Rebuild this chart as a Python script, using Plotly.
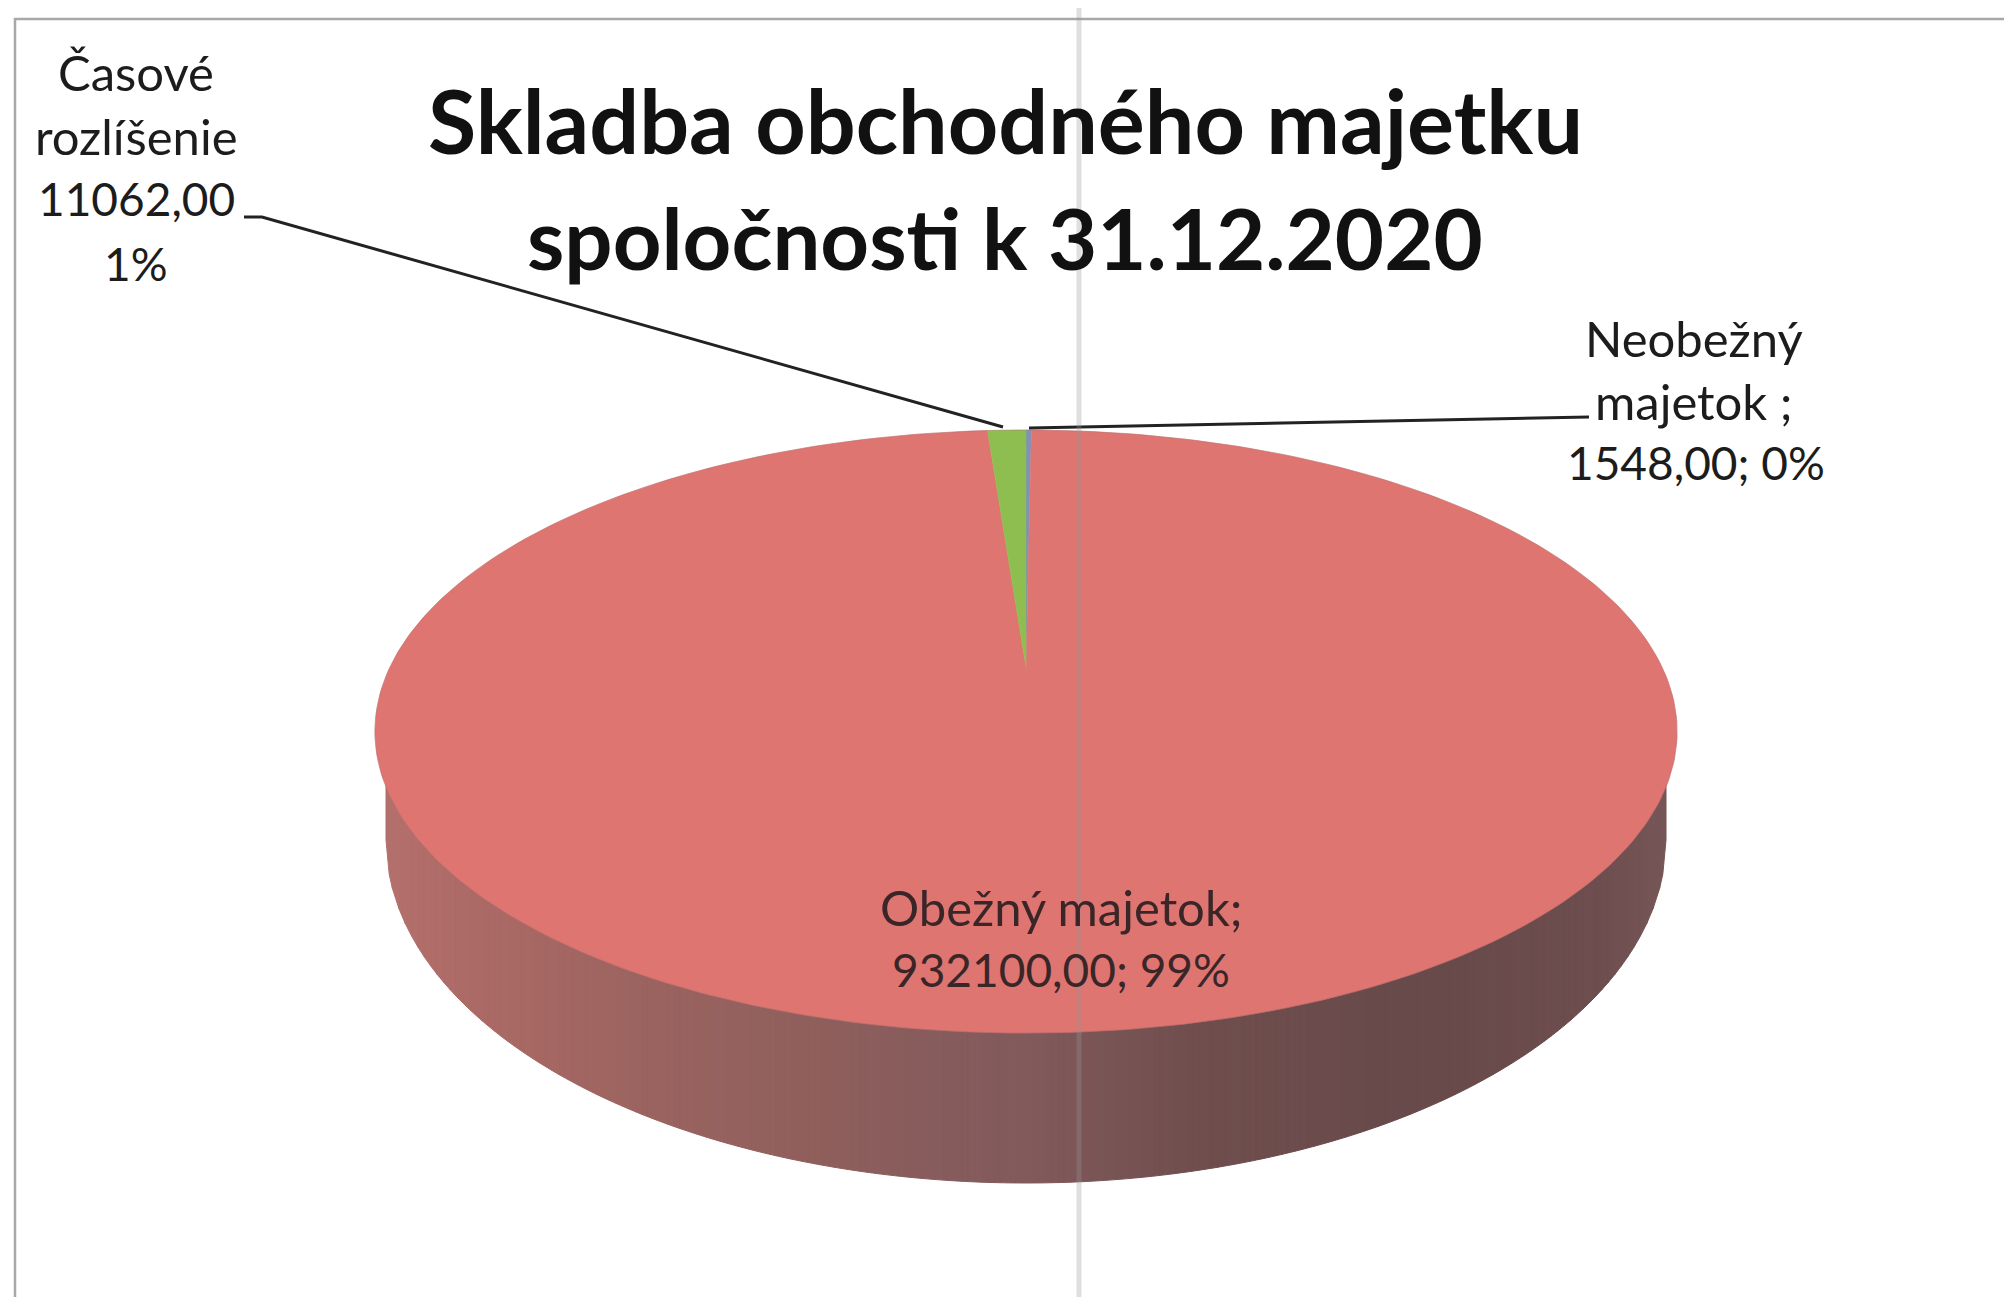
import numpy as np
import plotly.graph_objects as go

# ---- data ----
categories = ["Neobežný majetok", "Obežný majetok", "Časové rozlíšenie"]
values = [1548.00, 932100.00, 11062.00]
percent_labels = ["0%", "99%", "1%"]
slice_colors = ["#7F93B8", "#DF7570", "#8FBE50"]
title_lines = ["Skladba obchodného majetku", "spoločnosti k 31.12.2020"]

def num(v):
    return f"{v:.2f}".replace(".", ",")

# ---- page geometry (pixels of the scanned sheet) ----
OFF = 8               # default body margin of the page
W, H = 2012, 1305
CX, APEX_Y, TOP_Y, BOT_Y = 1026, 667, 430, 1033
R = 636
# perspective of the disc: Y = (APEX_Y + a v) / (1 + c v)
c = 0.214
a = TOP_Y * (1 + c) - APEX_Y

def project(theta):
    u, v = np.sin(theta), np.cos(theta)
    d = 1 + c * v
    return CX + R * u / d, (APEX_Y + a * v) / d

total = sum(values)
fracs = [v / total for v in values]
edges = np.cumsum([0] + fracs) * 2 * np.pi

fig = go.Figure()

# ---- side wall, as vertical strips ----
SX, SY, SRX, SRY = 1026, 840, 640, 343
stops_x = [386, 480, 640, 860, 1030, 1200, 1420, 1600, 1666]
stops_c = [(180, 112, 108), (172, 106, 102), (156, 100, 96), (140, 94, 92), (130, 90, 92),
           (112, 78, 78), (104, 74, 74), (110, 78, 78), (118, 86, 86)]
strip_edges = np.linspace(SX - SRX, SX + SRX, 201)
for x0, x1 in zip(strip_edges[:-1], strip_edges[1:]):
    xs = np.linspace(x0, x1, 3)
    ys = SY + SRY * np.sqrt(np.clip(1 - ((xs - SX) / SRX) ** 2, 0, 1))
    mid = (x0 + x1) / 2
    col = [int(np.interp(mid, stops_x, [s[i] for s in stops_c])) for i in range(3)]
    colour = f"rgb({col[0]},{col[1]},{col[2]})"
    fig.add_trace(go.Scatter(
        x=list(xs) + [x1, x0, x0], y=list(ys) + [720, 720, ys[0]],
        mode="lines", fill="toself", fillcolor=colour,
        line=dict(color=colour, width=1), hoverinfo="skip", showlegend=False))

# ---- top face, drawn from the values ----
for name, val, col, t0, t1 in zip(categories, values, slice_colors, edges[:-1], edges[1:]):
    n = max(4, int((t1 - t0) * 60))
    th = np.linspace(t0, t1, n)
    px, py = project(th)
    fig.add_trace(go.Scatter(
        x=[CX] + list(px) + [CX], y=[APEX_Y] + list(py) + [APEX_Y],
        mode="lines", fill="toself", fillcolor=col,
        line=dict(color=col, width=0.5), name=name, showlegend=False,
        hovertemplate=f"{name}: {num(val)}<extra></extra>"))

# rim
th = np.linspace(0, 2 * np.pi, 400)
px, py = project(th)
fig.add_trace(go.Scatter(x=px, y=py, mode="lines", hoverinfo="skip", showlegend=False,
                         line=dict(color="rgba(170,110,112,0.4)", width=1)))

# ---- leader lines ----
fig.add_trace(go.Scatter(x=[244, 262, 1003], y=[217, 217, 427], mode="lines", hoverinfo="skip",
                         showlegend=False, line=dict(color="#222222", width=3)))
fig.add_trace(go.Scatter(x=[1589, 1029], y=[417, 428], mode="lines", hoverinfo="skip",
                         showlegend=False, line=dict(color="#222222", width=3)))

# ---- sheet border and fold ----
fig.add_trace(go.Scatter(x=[15, 15, W], y=[H, 19, 19], mode="lines", hoverinfo="skip",
                         showlegend=False, line=dict(color="#A8A8A8", width=2.5)))
fig.add_trace(go.Scatter(x=[1079, 1079], y=[OFF, H], mode="lines", hoverinfo="skip",
                         showlegend=False, line=dict(color="rgba(150,150,150,0.3)", width=5)))

# ---- texts ----
FONT = "Lato, Carlito, Calibri, sans-serif"
LABEL = 49
NUMS = 46
TITLE = 88
texts = [
    (1005, 120, title_lines[0], TITLE, "#111111", True),
    (1005, 237, title_lines[1], 85, "#111111", True),
    (136, 72, categories[2].split()[0], LABEL, "#1c1c1c", False),
    (136, 136, categories[2].split()[1], LABEL, "#1c1c1c", False),
    (136, 198, num(values[2]), NUMS, "#1c1c1c", False),
    (136, 263, percent_labels[2], NUMS, "#1c1c1c", False),
    (1694, 338, categories[0].split()[0], LABEL, "#1c1c1c", False),
    (1694, 401, categories[0].split()[1] + " ;", LABEL, "#1c1c1c", False),
    (1696, 462, f"{num(values[0])}; {percent_labels[0]}", NUMS, "#1c1c1c", False),
    (1061, 907, categories[1] + ";", LABEL, "#3a2628", False),
    (1061, 969, f"{num(values[1])}; {percent_labels[1]}", NUMS, "#3a2628", False),
]
for x, y, t, size, col, bold in texts:
    fig.add_annotation(x=x, y=y, text=f"<b>{t}</b>" if bold else t, showarrow=False,
                       xanchor="center", yanchor="middle",
                       font=dict(family=FONT, size=size, color=col))

fig.update_layout(
    width=W - 2 * OFF, height=H - 2 * OFF,
    margin=dict(l=0, r=0, t=0, b=0),
    paper_bgcolor="white", plot_bgcolor="white", showlegend=False,
    xaxis=dict(range=[OFF, W - OFF], visible=False, fixedrange=True),
    yaxis=dict(range=[H - OFF, OFF], visible=False, fixedrange=True),
)
fig.write_html("out.html")
